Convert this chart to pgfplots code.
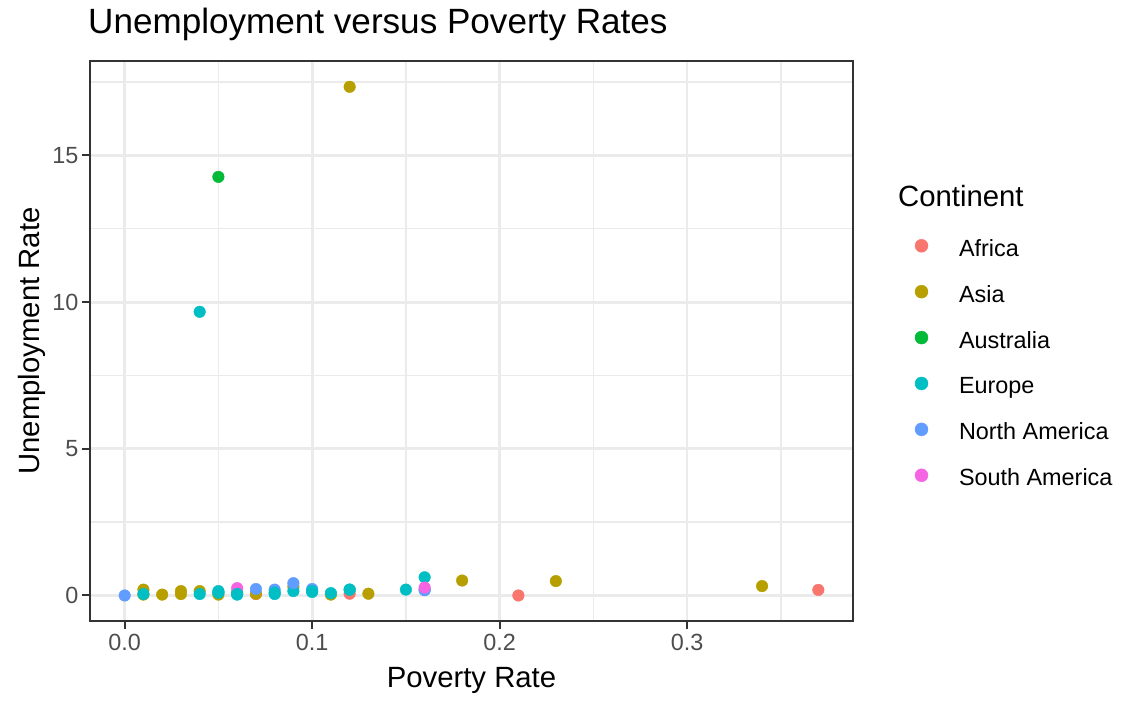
\documentclass[border=0pt]{standalone}
\usepackage{pgfplots}
\pgfplotsset{compat=1.18}
\usepackage{fontspec}
\setmainfont{Liberation Sans}
\definecolor{cAf}{HTML}{F8766D}
\definecolor{cAs}{HTML}{B79F00}
\definecolor{cAu}{HTML}{00BA38}
\definecolor{cEu}{HTML}{00BFC4}
\definecolor{cNA}{HTML}{619CFF}
\definecolor{cSA}{HTML}{F564E3}
\definecolor{gridc}{HTML}{EBEBEB}
\definecolor{tickc}{HTML}{4D4D4D}
\definecolor{axc}{HTML}{333333}
\begin{document}
\begin{tikzpicture}
\begin{axis}[
  at={(0pt,0pt)}, anchor=south west,
  scale only axis, width=763pt, height=560pt,
  clip mode=individual,
  xmin=-0.0185, xmax=0.3885, ymin=-0.87, ymax=18.22,
  xtick={0,0.1,0.2,0.3}, ytick={0,5,10,15},
  minor xtick={0.05,0.15,0.25,0.35}, minor ytick={2.5,7.5,12.5,17.5},
  xticklabel style={yshift=-2pt, /pgf/number format/.cd,fixed,fixed zerofill,precision=1},
  /pgf/number format/assume math mode=true,
  tick pos=left,
  grid=both,
  major grid style={gridc, line width=2.8pt},
  minor grid style={gridc, line width=1.4pt},
  axis line style={axc, line width=1.4pt},
  tick style={axc, line width=2pt},
  tick align=outside, major tick length=8pt, minor tick length=0pt,
  ticklabel style={font=\fontsize{23.4}{27}\selectfont, text=tickc},
  xlabel={Poverty Rate}, ylabel={Unemployment Rate},
  label style={font=\fontsize{29.3}{34}\selectfont},
  xlabel style={yshift=-9pt},
  ylabel style={yshift=0pt},
  title={Unemployment versus Poverty Rates},
  title style={font=\fontsize{35.1}{40}\selectfont, at={(axis description cs:0,1)}, anchor=base west, xshift=-2pt, yshift=21.5pt, inner sep=0pt},
  every axis plot/.append style={only marks, mark=*, mark size=5.8pt},
  legend style={at={(axis description cs:1.081,0.682)}, anchor=north west, draw=none, fill=none, inner sep=0pt,
    font=\fontsize{23.4}{27}\selectfont, row sep=23.9pt, column sep=31pt,
    nodes={inner sep=0pt, text height=17pt, text depth=5pt}},
  legend cell align=left,
  legend image code/.code={\draw[#1, mark size=6.5pt] plot coordinates {(0pt,4.5pt)};},
]
\addplot[cAf, mark options={draw=cAf, fill=cAf}] coordinates {(0.07,0.05)(0.12,0.06)(0.21,0.0)(0.37,0.19)};
\addlegendentry{Africa}
\addplot[cAs, mark options={draw=cAs, fill=cAs}] coordinates {(0.01,0.2)(0.01,0.03)(0.02,0.03)(0.03,0.15)(0.03,0.05)(0.04,0.15)(0.05,0.03)(0.07,0.06)(0.09,0.3)(0.11,0.03)(0.12,17.34)(0.13,0.06)(0.18,0.51)(0.23,0.49)(0.34,0.32)};
\addlegendentry{Asia}
\addplot[cAu, mark options={draw=cAu, fill=cAu}] coordinates {(0.05,14.27)(0.06,0.1)};
\addlegendentry{Australia}
\addplot[cEu, mark options={draw=cEu, fill=cEu}] coordinates {(0.04,9.67)(0.01,0.05)(0.04,0.05)(0.05,0.1)(0.05,0.15)(0.06,0.03)(0.08,0.05)(0.09,0.15)(0.1,0.12)(0.11,0.08)(0.12,0.2)(0.15,0.2)(0.16,0.62)(0.16,0.2)};
\addlegendentry{Europe}
\addplot[cNA, mark options={draw=cNA, fill=cNA}] coordinates {(0,0)(0.07,0.22)(0.08,0.2)(0.09,0.42)(0.1,0.22)(0.16,0.18)};
\addlegendentry{North America}
\addplot[cSA, mark options={draw=cSA, fill=cSA}] coordinates {(0.06,0.25)(0.16,0.27)};
\addlegendentry{South America}
\addplot[cEu, mark options={draw=cEu, fill=cEu}, forget plot] coordinates {(0.05,0.1)(0.06,0.05)(0.08,0.1)(0.1,0.15)(0.12,0.2)};
\node[anchor=base west, inner sep=0pt, font=\fontsize{29.3}{34}\selectfont] at (axis description cs:1.059,0.741) {Continent};
\end{axis}
\pgfresetboundingbox
\path (-90pt,-84pt) rectangle (1052pt,621pt);
\end{tikzpicture}
\end{document}
